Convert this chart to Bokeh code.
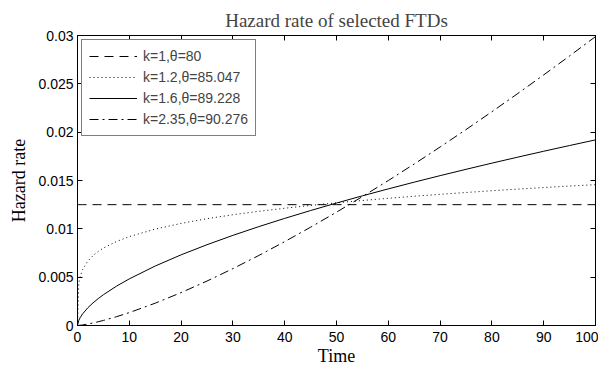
from bokeh.plotting import figure
from bokeh.models import LinearAxis, Range1d, Legend, LegendItem, FixedTicker
from bokeh.embed import file_html
from bokeh.resources import INLINE

time = [0, 0.25, 0.5, 1, 2, 3, 4, 5, 7.5, 10, 15, 20, 25, 30, 35, 40, 45, 50,
        55, 60, 65, 70, 75, 80, 85, 90, 95, 100]
h_k1 = [0.0125] * len(time)
h_k12 = [0.0, 0.00440, 0.00505, 0.00580, 0.00667, 0.00723, 0.00766, 0.00801,
         0.00868, 0.00920, 0.00997, 0.01056, 0.01105, 0.01146, 0.01181, 0.01213,
         0.01242, 0.01269, 0.01293, 0.01316, 0.01337, 0.01357, 0.01376, 0.01394,
         0.01411, 0.01427, 0.01443, 0.01457]
h_k16 = [0.0, 0.000527, 0.000799, 0.001211, 0.001836, 0.002342, 0.002784, 0.003183,
         0.004059, 0.004823, 0.006152, 0.007311, 0.008358, 0.009324, 0.010228,
         0.011081, 0.011892, 0.012668, 0.013414, 0.014133, 0.014828, 0.015502,
         0.016157, 0.016795, 0.017417, 0.018025, 0.018619, 0.019201]
h_k235 = [0.0, 0.0000092, 0.0000234, 0.0000596, 0.000152, 0.000263, 0.000387,
          0.000523, 0.000905, 0.001335, 0.002308, 0.003403, 0.004599, 0.005883,
          0.007243, 0.008675, 0.010169, 0.011724, 0.013334, 0.014996, 0.016707,
          0.018465, 0.020267, 0.022113, 0.023999, 0.025924, 0.027887, 0.029886]
labels = ["k=1,\u03b8=80", "k=1.2,\u03b8=85.047", "k=1.6,\u03b8=89.228", "k=2.35,\u03b8=90.276"]
x_ticks = [0, 10, 20, 30, 40, 50, 60, 70, 80, 90, 100]
y_ticks = [0, 0.005, 0.01, 0.015, 0.02, 0.025, 0.03]
y_tick_labels = ["0", "0.005", "0.01", "0.015", "0.02", "0.025", "0.03"]

p = figure(width=598, height=368, output_backend="svg", toolbar_location=None,
           x_range=Range1d(0, 100), y_range=Range1d(0, 0.03),
           x_axis_type=None, y_axis_type=None,
           min_border_left=77, min_border_right=3, min_border_top=35, min_border_bottom=43)
p.title.text = "Hazard rate of selected FTDs"
p.title.align = "center"
p.title.text_font = "Liberation Serif"
p.title.text_font_size = "19px"
p.title.text_font_style = "normal"
p.title.offset = 0
p.grid.visible = False
p.outline_line_color = "black"
p.outline_line_width = 1
p.background_fill_color = "white"
p.border_fill_color = "white"

xb = LinearAxis(ticker=FixedTicker(ticks=x_ticks), axis_label="Time")
yl = LinearAxis(ticker=FixedTicker(ticks=y_ticks), axis_label="Hazard rate")
yl.major_label_overrides = {t: s for t, s in zip(y_ticks, y_tick_labels)}
xt = LinearAxis(ticker=FixedTicker(ticks=x_ticks))
yr = LinearAxis(ticker=FixedTicker(ticks=y_ticks))
for ax in (xb, yl, xt, yr):
    ax.major_tick_in = 5
    ax.major_tick_out = 0
    ax.minor_tick_line_color = None
    ax.axis_line_color = "black"
    ax.major_tick_line_color = "black"
    ax.major_label_text_font = "Liberation Sans"
    ax.major_label_text_font_size = "14px"
    ax.major_label_text_color = "black"
    ax.axis_label_text_font = "Liberation Serif"
    ax.axis_label_text_font_size = "18px"
    ax.axis_label_text_font_style = "normal"
    ax.axis_label_text_color = "black"
xb.major_label_standoff = 6
xb.axis_label_standoff = 1
yl.major_label_standoff = 4
yl.axis_label_standoff = 6
for ax in (xt, yr):
    ax.major_label_text_font_size = "0px"
    ax.major_label_standoff = 0
p.add_layout(xb, "below")
p.add_layout(yl, "left")
p.add_layout(xt, "above")
p.add_layout(yr, "right")

r1 = p.line(time, h_k1, line_color="black", line_width=1, line_dash="9 6")
r2 = p.line(time, h_k12, line_color="black", line_width=1, line_dash="1 3")
r3 = p.line(time, h_k16, line_color="black", line_width=1)
r4 = p.line(time, h_k235, line_color="black", line_width=1, line_dash="9 4 2 4")

legend = Legend(items=[LegendItem(label=l, renderers=[r]) for l, r in zip(labels, [r1, r2, r3, r4])],
                location="top_left")
legend.border_line_color = "black"
legend.border_line_width = 1
legend.label_text_font = "Liberation Sans"
legend.label_text_font_size = "14px"
legend.glyph_width = 48
legend.glyph_height = 18
legend.label_height = 18
legend.spacing = 3
legend.padding = 7
legend.margin = 4
legend.label_standoff = 6
legend.background_fill_alpha = 1
p.add_layout(legend, "center")

open("out.html", "w").write(file_html(p, INLINE))
